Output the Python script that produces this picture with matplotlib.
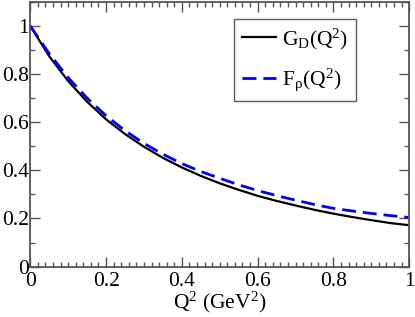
import matplotlib
matplotlib.use("Agg")
import matplotlib.pyplot as plt
from matplotlib.ticker import MultipleLocator

plt.rcParams['font.family'] = ['Liberation Serif', 'DejaVu Serif']
plt.rcParams['mathtext.fontset'] = 'custom'
plt.rcParams['mathtext.rm'] = 'Liberation Serif'
plt.rcParams['mathtext.it'] = 'Liberation Serif:italic'

# values
q2 = [0.0, 0.05, 0.1, 0.15, 0.2, 0.25, 0.3, 0.35, 0.4, 0.45, 0.5,
      0.55, 0.6, 0.65, 0.7, 0.75, 0.8, 0.85, 0.9, 0.95, 1.0]
g_dipole = [1.0, 0.874, 0.771, 0.685, 0.612, 0.551, 0.498, 0.452, 0.412, 0.377, 0.346,
            0.319, 0.294, 0.273, 0.254, 0.236, 0.220, 0.206, 0.193, 0.181, 0.172]
f_rho = [1.0, 0.885, 0.785, 0.700, 0.627, 0.565, 0.512, 0.467, 0.428, 0.395, 0.367,
         0.340, 0.316, 0.295, 0.276, 0.258, 0.242, 0.231, 0.221, 0.212, 0.204]

fig = plt.figure(figsize=(4.15, 3.17), dpi=100)
ax = fig.add_axes([0.073, 0.159, 0.913, 0.835])

ax.plot(q2, g_dipole, color='black', lw=1.6, label=r'G$_\mathrm{D}$(Q$^2$)')
ax.plot(q2, f_rho, color='#0000ee', lw=2.0, dashes=(5, 2.5), label=r'F$_\mathrm{ρ}$(Q$^2$)')

ax.set_xlim(0, 1)
ax.set_ylim(0, 1.1)
ax.xaxis.set_minor_locator(MultipleLocator(0.02))
ax.yaxis.set_minor_locator(MultipleLocator(0.1))
ax.set_xticks([0, 0.2, 0.4, 0.6, 0.8, 1.0], ['0', '0.2', '0.4', '0.6', '0.8', '1'])
ax.set_yticks([0, 0.2, 0.4, 0.6, 0.8, 1.0], ['0', '0.2', '0.4', '0.6', '0.8', '1'])

ax.tick_params(which='both', direction='in', top=True, right=True,
               color='#555555', labelsize=15.5)
ax.tick_params(axis='y', pad=1)
ax.tick_params(axis='x', pad=4)
ax.tick_params(which='major', length=7, width=1)
ax.tick_params(which='minor', length=3.5, width=1)
for s in ax.spines.values():
    s.set_color('#555555')
    s.set_linewidth(1.3)

ax.set_xlabel(r'Q$^2$ (GeV$^2$)', fontsize=15.5, labelpad=-1)

leg = ax.legend(loc='upper right', bbox_to_anchor=(0.86, 0.936), fontsize=15.5,
                frameon=True, fancybox=False, handlelength=1.6, borderaxespad=0,
                borderpad=0.35, labelspacing=0.7, handletextpad=0.3)
leg.get_frame().set_edgecolor('#333333')
leg.get_frame().set_linewidth(1.0)

fig.savefig('out.png', dpi=100)
